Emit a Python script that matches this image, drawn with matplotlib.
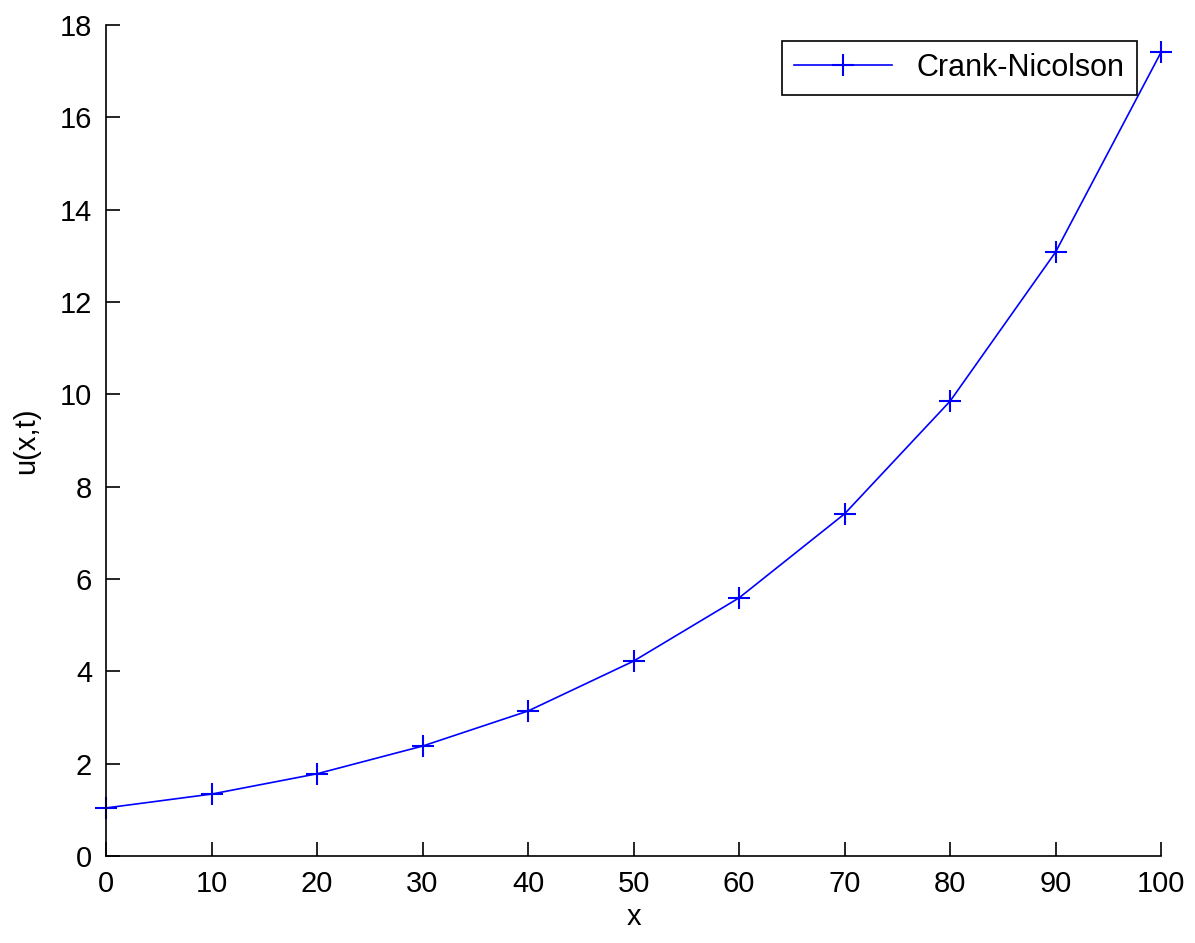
import numpy as np
import matplotlib.pyplot as plt

plt.rcParams['font.family'] = ['Liberation Sans', 'DejaVu Sans']

# Crank-Nicolson solution values
x = [0, 10, 20, 30, 40, 50, 60, 70, 80, 90, 100]
u = [1.04, 1.34, 1.78, 2.38, 3.14, 4.22, 5.59, 7.41, 9.85, 13.08, 17.41]

fig = plt.figure(figsize=(11.95, 9.43), dpi=100)
ax = fig.add_axes([0.0887, 0.0923, 0.8829, 0.8812])

ax.plot(x, u, color='#0000ff', marker='+', markersize=16, markeredgewidth=1.5,
        linewidth=1.2, label='Crank-Nicolson', clip_on=False)

ax.set_xlim(0, 100)
ax.set_ylim(0, 18)
ax.set_xticks(np.arange(0, 101, 10))
ax.set_yticks(np.arange(0, 19, 2))
ax.spines['top'].set_visible(False)
ax.spines['right'].set_visible(False)
for s in ['left', 'bottom']:
    ax.spines[s].set_linewidth(1.2)
ax.tick_params(direction='in', length=10, width=1.2, labelsize=21, pad=10)

ax.set_xlabel('x', fontsize=21, labelpad=4)
ax.set_ylabel('u(x,t)', fontsize=21, labelpad=14)

leg = ax.legend(loc='upper right', bbox_to_anchor=(0.977, 0.981), fontsize=22,
                fancybox=False, framealpha=1, edgecolor='black', borderpad=0.4,
                handlelength=3.2, borderaxespad=0)
leg.get_frame().set_linewidth(1.2)

fig.savefig('out.png', dpi=100)
